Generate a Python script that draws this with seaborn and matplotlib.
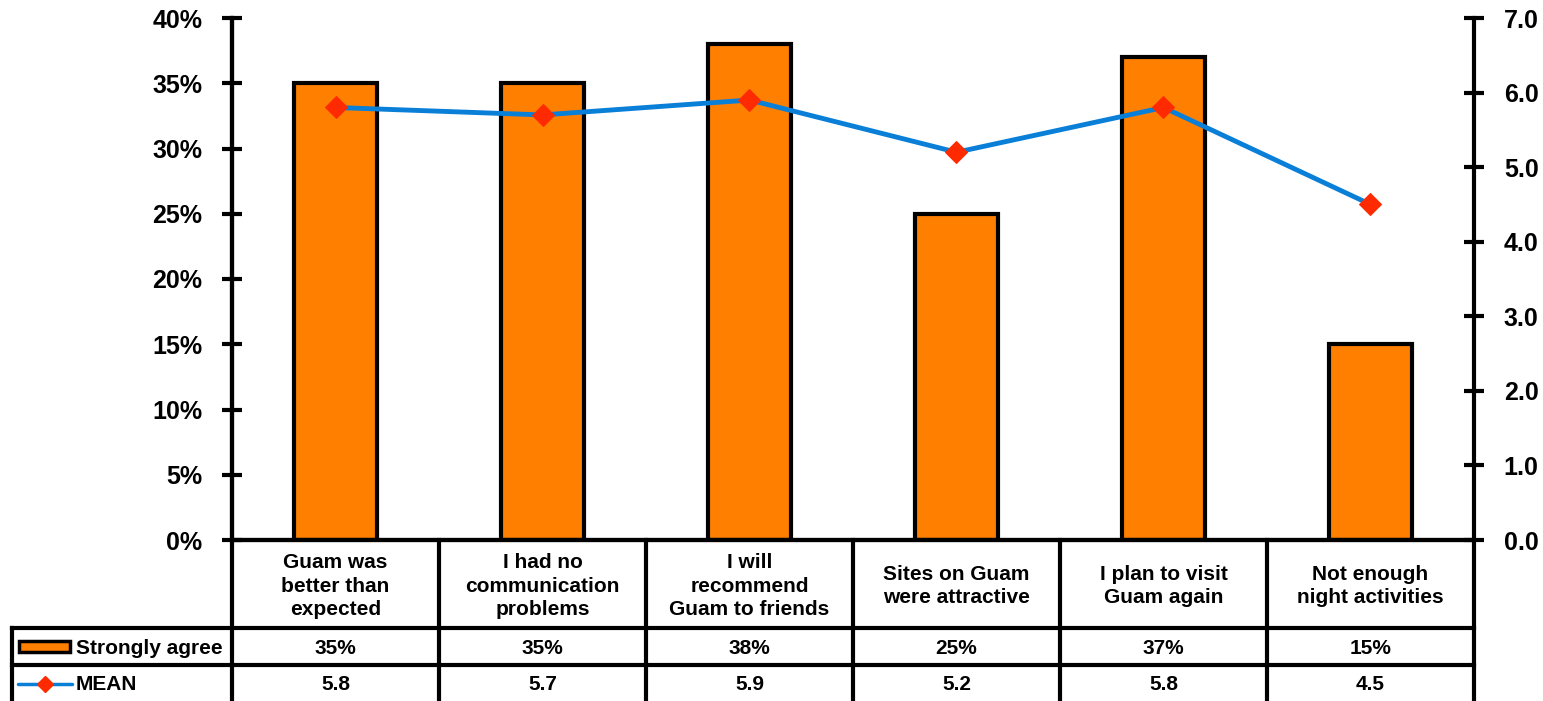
import numpy as np
import matplotlib
matplotlib.use("Agg")
import matplotlib.pyplot as plt
import seaborn as sns
from matplotlib.lines import Line2D
from matplotlib.patches import Rectangle

# Data
categories = [
    "Guam was\nbetter than\nexpected",
    "I had no\ncommunication\nproblems",
    "I will\nrecommend\nGuam to friends",
    "Sites on Guam\nwere attractive",
    "I plan to visit\nGuam again",
    "Not enough\nnight activities",
]
strongly_agree = [35, 35, 38, 25, 37, 15]
mean_scores = [5.8, 5.7, 5.9, 5.2, 5.8, 4.5]
pct_ticks = [0, 5, 10, 15, 20, 25, 30, 35, 40]
mean_ticks = [0, 1, 2, 3, 4, 5, 6, 7]

ORANGE = "#FF7F00"
BLUE = "#0A7FD8"
RED = "#FF2A00"

W, H = 1543, 701
sns.set_style("white")
plt.rcParams["font.family"] = ["Liberation Sans", "DejaVu Sans"]
plt.rcParams["font.weight"] = "bold"
plt.rcParams["text.color"] = "black"
plt.rcParams["ytick.color"] = "black"
plt.rcParams["ytick.labelcolor"] = "black"

fig = plt.figure(figsize=(W / 100, H / 100), dpi=100)

# pixel -> figure coords helpers
def fx(px):
    return px / W

def fy(py):
    return 1 - py / H

x0, x1, ytop, ybot = 232, 1474, 18, 540
ax = fig.add_axes([fx(x0), fy(ybot), fx(x1) - fx(x0), fy(ytop) - fy(ybot)])

sns.barplot(x=list(range(len(categories))), y=strongly_agree, color=ORANGE,
            saturation=1, width=0.4, edgecolor="black", linewidth=3, ax=ax)
ax.set_xlim(-0.5, len(categories) - 0.5)
ax.set_ylim(0, 40)
ax.set_yticks(pct_ticks)
ax.set_yticklabels([f"{t}%" for t in pct_ticks], fontsize=18, fontweight="bold",
                   color="black")
ax.set_xticks([])
ax.set_xlabel("")
ax.set_ylabel("")
ax.tick_params(axis="y", direction="inout", length=15, width=3, pad=14, left=True)

ax2 = ax.twinx()
sns.lineplot(x=np.arange(len(categories)), y=mean_scores, color=BLUE, lw=3.5,
             marker="D", markersize=11, markerfacecolor=RED, markeredgecolor=RED,
             ax=ax2, zorder=5)
ax2.set_ylim(0, 7)
ax2.set_yticks(mean_ticks)
ax2.set_yticklabels([f"{t:.1f}" for t in mean_ticks], fontsize=18, fontweight="bold",
                    color="black")
ax2.set_ylabel("")
ax2.tick_params(axis="y", direction="inout", length=15, width=3, pad=14, right=True)

for a in (ax, ax2):
    a.spines["top"].set_visible(False)
    for s in ("left", "right", "bottom"):
        a.spines[s].set_linewidth(3)
        a.spines[s].set_color("black")
ax.spines["right"].set_visible(False)

# Data table below the plot
edges = np.linspace(x0, x1, len(categories) + 1)
row_y = [ybot, 628, 665, H]
tleft = 12
lkw = dict(color="black", lw=3, transform=fig.transFigure, clip_on=False,
           solid_capstyle="projecting")

for e in edges:
    fig.add_artist(Line2D([fx(e), fx(e)], [fy(ybot), fy(H)], **lkw))
for y in row_y[1:3]:
    fig.add_artist(Line2D([fx(tleft), fx(x1)], [fy(y), fy(y)], **lkw))
fig.add_artist(Line2D([fx(tleft), fx(tleft)], [fy(628), fy(H)], **lkw))

tkw = dict(transform=fig.transFigure, ha="center", va="center",
           fontsize=15, fontweight="bold", color="black")
for i, cat in enumerate(categories):
    cx = fx((edges[i] + edges[i + 1]) / 2)
    fig.text(cx, fy(586), cat, linespacing=1.3, **tkw)
    fig.text(cx, fy(648), f"{strongly_agree[i]}%", **tkw)
    fig.text(cx, fy(685), f"{mean_scores[i]:.1f}", **tkw)

# legend keys in table
fig.add_artist(Rectangle((fx(19), fy(652)), fx(70) - fx(19), fy(641) - fy(652),
                         facecolor=ORANGE, edgecolor="black", lw=2.5,
                         transform=fig.transFigure))
fig.text(fx(76), fy(648), "Strongly agree", transform=fig.transFigure,
         ha="left", va="center", fontsize=15, fontweight="bold", color="black")
fig.add_artist(Line2D([fx(18), fx(72)], [fy(684), fy(684)], color=BLUE, lw=2.5,
                      transform=fig.transFigure))
fig.add_artist(Line2D([fx(45)], [fy(684)], marker="D", markersize=8, color=RED,
                      transform=fig.transFigure))
fig.text(fx(76), fy(685), "MEAN", transform=fig.transFigure,
         ha="left", va="center", fontsize=15, fontweight="bold", color="black")

fig.savefig("out.png", dpi=100)
